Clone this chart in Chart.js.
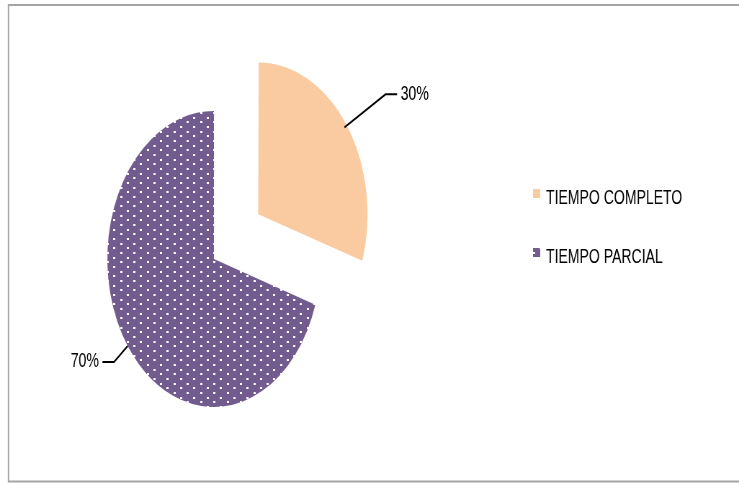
<!DOCTYPE html>
<html>
<head>
<meta charset="utf-8">
<script src="https://cdn.jsdelivr.net/npm/chart.js@4"></script>
<style>
    html, body { margin: 0; padding: 0; background: #fff; overflow: hidden; }
    /* the reference is a squeezed picture, so the chart is drawn wide and squeezed back */
    #wrap { position: absolute; left: 0; top: 0; width: 1026px; height: 483px; transform: scaleX(0.7203); transform-origin: 0 0; }
</style>
</head>
<body>
<div id="wrap"><canvas id="pieChart"></canvas></div>
<script>
const categories = ['TIEMPO COMPLETO', 'TIEMPO PARCIAL'];
const percentages = [30, 70];
const valueLabels = ['30%', '70%'];

const FONT = '19.5px "Liberation Sans", Arial, sans-serif';
const peach = '#FACBA0';
const purple = '#725B8E';

// Chart.js v4 moves an arc by offset / 4
const explode = [304, 0];
// leader line bend, relative to the slice edge
const leaderOut = [[57, -33], [-19, 16]];

// staggered white dots, like the office "dotted" fill
function dotPattern(base) {
    const tile = document.createElement('canvas');
    tile.width = 37;
    tile.height = 28;
    const t = tile.getContext('2d');
    t.fillStyle = base;
    t.fillRect(0, 0, 37, 28);
    t.fillStyle = '#ffffff';
    for (let r = 0; r < 6; r++) {
        const y = Math.round(r * 28 / 6);
        const shift = (r % 2) * 9.25;
        for (let k = 0; k < 2; k++) {
            t.fillRect(Math.round(shift + k * 18.5), y, 3, 2);
        }
    }
    return t.createPattern(tile, 'repeat');
}

const fills = [peach, dotPattern(purple)];

const framePlugin = {
    id: 'frame',
    beforeDraw(chart) {
        const ctx = chart.ctx;
        ctx.save();
        ctx.strokeStyle = '#a5a5a5';
        ctx.lineWidth = 2;
        ctx.strokeRect(11.8, 5, chart.width + 20, 476.5);
        ctx.restore();
    }
};

const leaderPlugin = {
    id: 'leaders',
    afterDatasetsDraw(chart) {
        const ctx = chart.ctx;
        const meta = chart.getDatasetMeta(0);
        ctx.save();
        ctx.strokeStyle = '#000';
        ctx.fillStyle = '#000';
        ctx.lineWidth = 2;
        ctx.font = FONT;
        ctx.textBaseline = 'middle';
        meta.data.forEach((arc, i) => {
            const p = arc.getProps(['x', 'y', 'startAngle', 'endAngle', 'outerRadius']);
            const mid = (p.startAngle + p.endAngle) / 2;
            const off = (arc.options.offset || 0) / 4;
            const ex = p.x + Math.cos(mid) * (p.outerRadius + off);
            const ey = p.y + Math.sin(mid) * (p.outerRadius + off);
            const bx = ex + leaderOut[i][0];
            const by = ey + leaderOut[i][1];
            const dir = Math.cos(mid) >= 0 ? 1 : -1;
            const tx = bx + dir * 16;
            ctx.beginPath();
            ctx.moveTo(ex, ey);
            ctx.lineTo(bx, by);
            ctx.lineTo(tx, by);
            ctx.stroke();
            ctx.textAlign = dir > 0 ? 'left' : 'right';
            ctx.fillText(valueLabels[i], tx + dir * 5, by);
        });
        ctx.restore();
    }
};

const legendPlugin = {
    id: 'sideLegend',
    afterDraw(chart) {
        const ctx = chart.ctx;
        const ds = chart.data.datasets[0];
        ctx.save();
        ctx.font = FONT;
        ctx.textBaseline = 'middle';
        ctx.textAlign = 'left';
        chart.data.labels.forEach((label, i) => {
            const cy = 199 + i * 59;
            ctx.fillStyle = ds.backgroundColor[i];
            ctx.fillRect(740, cy - 10, 10, 9);
            ctx.fillStyle = '#000';
            ctx.fillText(label, 758, cy);
        });
        ctx.restore();
    }
};

new Chart(document.getElementById('pieChart'), {
    type: 'pie',
    data: {
        labels: categories,
        datasets: [{
            data: percentages,
            backgroundColor: fills,
            borderWidth: 0,
            offset: explode,
            radius: 148,
            cutout: '0%'
        }]
    },
    options: {
        responsive: true,
        maintainAspectRatio: false,
        animation: false,
        events: [],
        layout: {
            padding: { left: 0, right: 432, top: 35, bottom: 0 }
        },
        plugins: {
            legend: { display: false },
            tooltip: { enabled: false }
        }
    },
    plugins: [framePlugin, leaderPlugin, legendPlugin]
});
</script>
</body>
</html>
